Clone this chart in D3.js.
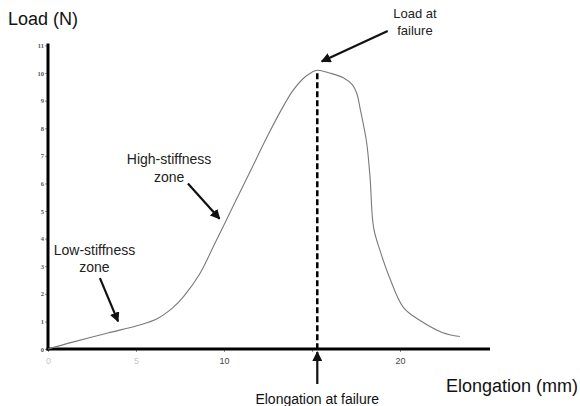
<!DOCTYPE html>
<html>
<head>
<meta charset="utf-8">
<script src="https://cdn.jsdelivr.net/npm/d3@7"></script>
<style>
  html, body { margin: 0; padding: 0; background: #fff; }
  svg { display: block; font-family: "Liberation Sans", Arial, sans-serif; }
</style>
</head>
<body>
<svg id="chart" width="580" height="406"></svg>
<script>
// Data
const elongation = [0, 1.4, 3.4, 5.2, 6.2, 7.1, 7.7, 8.6, 9.5, 10.5, 11.5, 12.5, 13.2, 13.9, 14.5, 15.0, 15.3, 16.0, 16.8, 17.3, 17.55, 17.75, 18.1, 18.3, 18.5, 18.9, 19.4, 20.2, 21.1, 22.4, 23.4];
const load       = [0, 0.25, 0.58, 0.87, 1.1, 1.5, 1.9, 2.7, 3.85, 5.15, 6.45, 7.75, 8.6, 9.35, 9.8, 10.03, 10.1, 10.0, 9.82, 9.57, 9.25, 8.66, 7.5, 6.2, 4.4, 3.5, 2.6, 1.5, 1.05, 0.6, 0.45];
const yTicks = [0, 1, 2, 3, 4, 5, 6, 7, 8, 9, 10, 11];
const xTicks = [0, 5, 10, 15, 20];
const xTickLabels = ["0", "5", "10", "", "20"];
const annotations = [
  { lines: ["Load at", "failure"], tail: [19.3, 11.52], head: [15.55, 10.42], label: [20.85, 11.99], gap: 17, size: 13 },
  { lines: ["High-stiffness", "zone"], tail: [7.95, 6.0], head: [9.75, 4.72], label: [6.88, 6.70], gap: 18, size: 14 },
  { lines: ["Low-stiffness", "zone"], tail: [2.95, 2.57], head: [3.98, 1.0], label: [2.64, 3.41], gap: 17, size: 14 }
];

const svg = d3.select("#chart");
const x = d3.scaleLinear().domain([0, 25]).range([48, 488]);
const y = d3.scaleLinear().domain([0, 11]).range([349, 45.4]);

const defs = svg.append("defs");
defs.append("marker").attr("id", "ah").attr("viewBox", "0 0 10 10")
  .attr("refX", 9).attr("refY", 5).attr("markerWidth", 4.5).attr("markerHeight", 4.5)
  .attr("markerUnits", "strokeWidth").attr("orient", "auto")
  .append("path").attr("d", "M0,0 L10,5 L0,10 z").attr("fill", "#111");

// axes via d3 axes
const yAxis = svg.append("g").attr("transform", `translate(${x(0)},0)`)
  .call(d3.axisLeft(y).tickValues(yTicks).tickSize(3).tickPadding(1).tickFormat(d3.format("d")));
yAxis.select(".domain").remove();
yAxis.selectAll(".tick line").attr("stroke", "#8a94b0");
yAxis.selectAll(".tick text").attr("font-size", 6.5).attr("font-weight", "bold")
  .attr("fill", "#555").attr("font-family", "Liberation Serif, serif");

const xAxis = svg.append("g").attr("transform", `translate(0,${y(0)})`)
  .call(d3.axisBottom(x).tickValues(xTicks).tickSize(3).tickPadding(6)
    .tickFormat((d, i) => xTickLabels[i]));
xAxis.select(".domain").remove();
xAxis.selectAll(".tick line").attr("stroke", "#8a94b0");
xAxis.selectAll(".tick text").attr("font-size", 9).attr("fill", (d) => d < 10 ? "#c4c8d6" : "#444")
  .attr("font-family", "Liberation Sans, Arial, sans-serif");

// thick axis lines
svg.append("line").attr("x1", x(0)).attr("x2", x(0)).attr("y1", y(11) - 2).attr("y2", y(0) + 1.5)
  .attr("stroke", "#000").attr("stroke-width", 3);
svg.append("line").attr("x1", x(0) - 1.5).attr("x2", x(25) + 2).attr("y1", y(0)).attr("y2", y(0))
  .attr("stroke", "#000").attr("stroke-width", 3);

// curve
const pts = elongation.map((e, i) => [e, load[i]]);
svg.append("path").datum(pts)
  .attr("d", d3.line().x(d => x(d[0])).y(d => y(d[1])).curve(d3.curveCatmullRom.alpha(0.5)))
  .attr("fill", "none").attr("stroke", "#7a7a7a").attr("stroke-width", 1.1);

// failure line
const iMax = d3.maxIndex(load);
const failX = elongation[iMax];
svg.append("line").attr("x1", x(failX)).attr("x2", x(failX))
  .attr("y1", y(load[iMax]) + 3).attr("y2", y(0))
  .attr("stroke", "#000").attr("stroke-width", 2.5).attr("stroke-dasharray", "6,3");

// elongation at failure arrow
svg.append("line").attr("x1", x(failX)).attr("x2", x(failX))
  .attr("y1", y(0) + 35).attr("y2", y(0) + 3)
  .attr("stroke", "#111").attr("stroke-width", 2.2).attr("marker-end", "url(#ah)");
svg.append("text").attr("x", x(failX)).attr("y", 404).attr("text-anchor", "middle")
  .attr("font-size", 14).attr("fill", "#111").text("Elongation at failure");

// annotations
annotations.forEach(a => {
  svg.append("line").attr("x1", x(a.tail[0])).attr("y1", y(a.tail[1]))
    .attr("x2", x(a.head[0])).attr("y2", y(a.head[1]))
    .attr("stroke", "#111").attr("stroke-width", 2.2).attr("marker-end", "url(#ah)");
  const t = svg.append("text").attr("x", x(a.label[0])).attr("y", y(a.label[1]))
    .attr("text-anchor", "middle").attr("font-size", a.size).attr("fill", "#222");
  a.lines.forEach((l, i) => t.append("tspan").attr("x", x(a.label[0])).attr("dy", i ? a.gap : 0).text(l));
});

// axis titles
svg.append("text").attr("x", 8).attr("y", 25).attr("font-size", 18).attr("fill", "#111").text("Load (N)");
svg.append("text").attr("x", 578).attr("y", 392).attr("text-anchor", "end")
  .attr("font-size", 18).attr("fill", "#111").text("Elongation (mm)");
</script>
</body>
</html>
